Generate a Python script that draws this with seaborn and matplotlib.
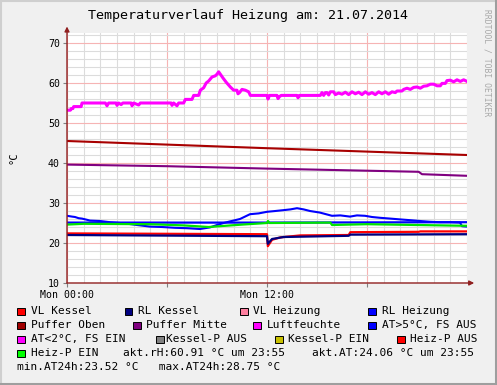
import matplotlib
matplotlib.use("Agg")
import matplotlib.pyplot as plt
from matplotlib.ticker import MultipleLocator, FixedLocator, FixedFormatter
from matplotlib.patches import Rectangle
from matplotlib.lines import Line2D
import seaborn as sns
import pandas as pd

# ---------------- data (hours since Mon 00:00, °C / %) ----------------
rh_h = [0, 0.2, 0.25, 0.35, 0.4, 0.85, 0.9, 2.3, 2.4, 2.5, 2.95, 3.0, 3.1, 3.25, 3.35, 3.85, 3.9, 4.0,
        4.3, 4.4, 6.25, 6.3, 6.4, 6.6, 6.7, 7.0, 7.1, 7.5, 7.6, 7.9, 8.0, 8.2, 8.35, 8.5, 8.7, 8.9,
        9.0, 9.1, 9.2, 9.35, 9.55, 9.8, 10.0, 10.2, 10.26, 10.35, 10.5, 10.7, 10.9, 11.0, 12.0, 12.06,
        12.15, 12.6, 12.66, 12.75, 12.85, 13.8, 13.86, 13.95, 15.2, 15.3, 15.4, 15.5, 15.6, 15.7, 15.8,
        16.0, 16.1, 16.3, 16.5, 16.7, 16.9, 17.1, 17.3, 17.5, 17.7, 17.9, 18.1, 18.3, 18.5, 18.7, 18.9,
        19.1, 19.3, 19.5, 19.7, 19.8, 20.1, 20.2, 20.4, 20.6, 20.8, 21.0, 21.2, 21.4, 21.6, 21.8, 22.0,
        22.2, 22.4, 22.5, 22.7, 22.8, 23.0, 23.2, 23.4, 23.6, 23.8, 24.0]
rh_v = [53.2, 53.2, 53.6, 53.6, 54.1, 54.1, 55, 55, 54.3, 55, 55, 54.4, 55, 54.6, 55, 55, 54.3, 55,
        54.5, 55, 55, 54.4, 55, 54.3, 55, 55, 55.9, 55.9, 56.9, 56.9, 58.2, 58.8, 60, 60.5, 61.5, 61.8,
        62.2, 62.8, 62.2, 61.3, 60.2, 59, 58.2, 58.2, 57.3, 57.6, 58.4, 58.2, 57.8, 56.9, 56.9, 56.0,
        56.9, 56.9, 56.1, 56.6, 56.9, 56.9, 56.3, 56.9, 56.9, 57.6, 56.9, 57.6, 57.6, 57.0, 57.8,
        57.8, 57.1, 57.5, 57.2, 57.7, 57.1, 57.8, 57.3, 57.7, 57.1, 57.8, 57.2, 57.6, 57.1, 57.8, 57.3,
        57.8, 57.2, 57.8, 57.6, 58.0, 58.0, 58.4, 58.7, 58.4, 58.9, 59.0, 58.7, 59.2, 59.3, 59.7, 59.7,
        59.3, 59.3, 59.9, 59.9, 60.6, 60.7, 60.3, 60.8, 60.4, 60.8, 60.4]

puffer_oben_h = [0, 12, 24]
puffer_oben_v = [45.5, 43.7, 42.0]

puffer_mitte_h = [0, 6, 12, 21.1, 21.3, 24]
puffer_mitte_v = [39.6, 39.2, 38.6, 37.8, 37.2, 36.8]

rl_heizung_h = [0, 12, 24]
rl_heizung_v = [25.1, 25.1, 25.2]

at_h = [0, 0.3, 0.48, 0.7, 0.9, 1.2, 1.38, 1.98, 2.58, 3.48, 4.2, 4.98, 5.7, 6.48, 7.2, 7.98, 8.58,
        9.0, 9.4, 9.78, 10.38, 10.98, 11.5, 12.0, 12.5, 12.96, 13.4, 13.8, 14.2, 14.58, 15.18, 15.9,
        16.4, 16.98, 17.4, 17.88, 18.3, 18.78, 19.4, 19.98, 20.6, 21.18, 21.8, 22.38, 23.0, 23.58,
        23.7, 24.0]
at_v = [26.8, 26.6, 26.5, 26.2, 26.1, 25.8, 25.6, 25.5, 25.2, 24.9, 24.5, 24.1, 24.0, 23.8, 23.7,
        23.5, 23.9, 24.5, 25.0, 25.4, 26.0, 27.2, 27.4, 27.8, 28.0, 28.2, 28.4, 28.7, 28.4, 28.0, 27.6,
        26.8, 26.9, 26.6, 26.9, 26.8, 26.5, 26.3, 26.1, 25.9, 25.7, 25.5, 25.3, 25.2, 25.2, 25.1,
        24.2, 24.1]

heiz_h = [0, 1, 5, 7, 8.5, 9.5, 10.5, 12.0, 12.06, 12.15, 15.8, 15.9, 18, 24]
heiz_v = [24.6, 24.8, 24.7, 24.4, 24.0, 24.3, 24.6, 25.0, 25.5, 25.0, 25.1, 24.5, 24.7, 24.3]

vl_kessel_h = [0, 12.0, 12.05, 12.3, 12.8, 14.0, 16.9, 17.0, 21.1, 21.2, 24]
vl_kessel_v = [22.4, 22.2, 19.2, 20.8, 21.4, 21.9, 22.0, 22.7, 22.8, 22.9, 22.9]

rl_kessel_h = [0, 12.0, 12.05, 12.3, 13.0, 16.9, 17.0, 24]
rl_kessel_v = [22.0, 21.7, 19.8, 21.0, 21.5, 21.8, 22.1, 22.2]

x_tick_pos = [0, 6, 12, 18]
x_tick_labels = ["Mon 00:00", "", "Mon 12:00", ""]
y_ticks = [10, 20, 30, 40, 50, 60, 70]

title = "Temperaturverlauf Heizung am: 21.07.2014"
legend_rows = [
    [("VL Kessel", "#FF0000", 17, 31), ("RL Kessel", "#000080", 125, 138),
     ("VL Heizung", "#FF80A0", 240, 253), ("RL Heizung", "#0000FF", 368, 382)],
    [("Puffer Oben", "#A00000", 17, 31), ("Puffer Mitte", "#800080", 133, 146),
     ("Luftfeuchte", "#FF00FF", 253, 267), ("AT>5°C, FS AUS", "#0000FF", 368, 382)],
    [("AT<2°C, FS EIN", "#FF00FF", 17, 31), ("Kessel-P AUS", "#808080", 156, 166),
     ("Kessel-P EIN", "#C8C000", 275, 288), ("Heiz-P AUS", "#FF0000", 397, 410)],
    [("Heiz-P EIN", "#00FF00", 17, 31)],
]
info_row4 = [("akt.rH:60.91 °C um 23:55", 123), ("akt.AT:24.06 °C um 23:55", 312)]
info_row5 = [("min.AT24h:23.52 °C   max.AT24h:28.75 °C", 17)]
row_y = [311, 325, 339, 353, 367]

# ---------------- figure ----------------
W, H = 497, 385
fig = plt.figure(figsize=(W / 100, H / 100), dpi=100)
fig.patch.set_facecolor("#F0F0F0")
plt.rcParams["font.family"] = ["DejaVu Sans Mono", "DejaVu Sans"]
mono = "DejaVu Sans Mono"

L, T, PW, PH = 67, 33, 400, 250
ax = fig.add_axes([L / W, 1 - (T + PH) / H, PW / W, PH / H])
ax.set_facecolor("white")

series = [
    (at_h, at_v, "#0000FF", 1.5),
    (rl_heizung_h, rl_heizung_v, "#0000FF", 1.6),
    (heiz_h, heiz_v, "#00E400", 1.6),
    (vl_kessel_h, vl_kessel_v, "#FF0000", 1.6),
    (rl_kessel_h, rl_kessel_v, "#000080", 1.6),
    (puffer_oben_h, puffer_oben_v, "#A80000", 1.5),
    (puffer_mitte_h, puffer_mitte_v, "#800080", 1.5),
    (rh_h, rh_v, "#FF00FF", 2.2),
]
for hx, vy, col, lw in series:
    df = pd.DataFrame({"h": hx, "v": vy})
    sns.lineplot(data=df, x="h", y="v", ax=ax, color=col, linewidth=lw,
                 estimator=None, sort=False, zorder=3)

ax.set_xlim(0, 24)
ax.set_ylim(10, 72.5)
ax.xaxis.set_major_locator(FixedLocator(x_tick_pos))
ax.xaxis.set_major_formatter(FixedFormatter(x_tick_labels))
ax.xaxis.set_minor_locator(MultipleLocator(1))
ax.yaxis.set_major_locator(FixedLocator(y_ticks))
ax.yaxis.set_minor_locator(MultipleLocator(2))
ax.grid(which="minor", color="#DCDCDC", linewidth=0.8, zorder=0)
ax.grid(which="major", color="#F6B4B4", linewidth=0.8, zorder=1)
ax.set_axisbelow(True)
ax.set_xlabel("")
ax.set_ylabel("")
for s in ax.spines.values():
    s.set_visible(False)
ax.tick_params(which="major", length=3, width=0.8, color="#808080", labelsize=7.1,
               labelcolor="black", pad=2)
ax.tick_params(which="minor", length=0)
for lab in ax.get_xticklabels() + ax.get_yticklabels():
    lab.set_fontfamily(mono)

arrow_col = "#902020"
ax.annotate("", xy=(1.018, 0), xytext=(0, 0), xycoords="axes fraction",
            arrowprops=dict(arrowstyle="-|>", color=arrow_col, lw=1.0, mutation_scale=7,
                            shrinkA=0, shrinkB=0), annotation_clip=False, zorder=5)
ax.annotate("", xy=(0, 1.026), xytext=(0, 0), xycoords="axes fraction",
            arrowprops=dict(arrowstyle="-|>", color=arrow_col, lw=1.0, mutation_scale=7,
                            shrinkA=0, shrinkB=0), annotation_clip=False, zorder=5)

def fx(x):
    return x / W

def fy(y):
    return 1 - y / H

fig.text(fx(248.5), fy(16), title, ha="center", va="center", fontsize=9.6, family=mono)
fig.text(fx(13), fy(158), "°C", ha="center", va="center", rotation=90, fontsize=7.5, family=mono)
fig.text(fx(487), fy(63), "RRDTOOL / TOBI OETIKER", ha="center", va="center", rotation=270,
         fontsize=5.8, family=mono, color="#A8A8A8")

for r, row in enumerate(legend_rows):
    for name, col, bx, tx in row:
        fig.patches.append(Rectangle((fx(bx), fy(row_y[r] + 4)), 7.5 / W, 7.5 / H,
                                     transform=fig.transFigure, facecolor=col,
                                     edgecolor="black", linewidth=0.7))
        fig.text(fx(tx), fy(row_y[r]), name, ha="left", va="center", fontsize=8, family=mono)
for txt, tx in info_row4:
    fig.text(fx(tx), fy(row_y[3]), txt, ha="left", va="center", fontsize=8, family=mono)
for txt, tx in info_row5:
    fig.text(fx(tx), fy(row_y[4]), txt, ha="left", va="center", fontsize=8, family=mono)

# 3D-ish frame
fig.add_artist(Line2D([0, 1], [1 - 1 / H, 1 - 1 / H], transform=fig.transFigure, color="#CFCFCF", lw=1.5))
fig.add_artist(Line2D([1 / W, 1 / W], [0, 1], transform=fig.transFigure, color="#CFCFCF", lw=1.5))
fig.add_artist(Line2D([0, 1], [1.5 / H, 1.5 / H], transform=fig.transFigure, color="#9E9E9E", lw=2.2))
fig.add_artist(Line2D([1 - 1.5 / W, 1 - 1.5 / W], [0, 1], transform=fig.transFigure, color="#9E9E9E", lw=2.2))

fig.savefig("out.png", dpi=100, facecolor=fig.get_facecolor())
